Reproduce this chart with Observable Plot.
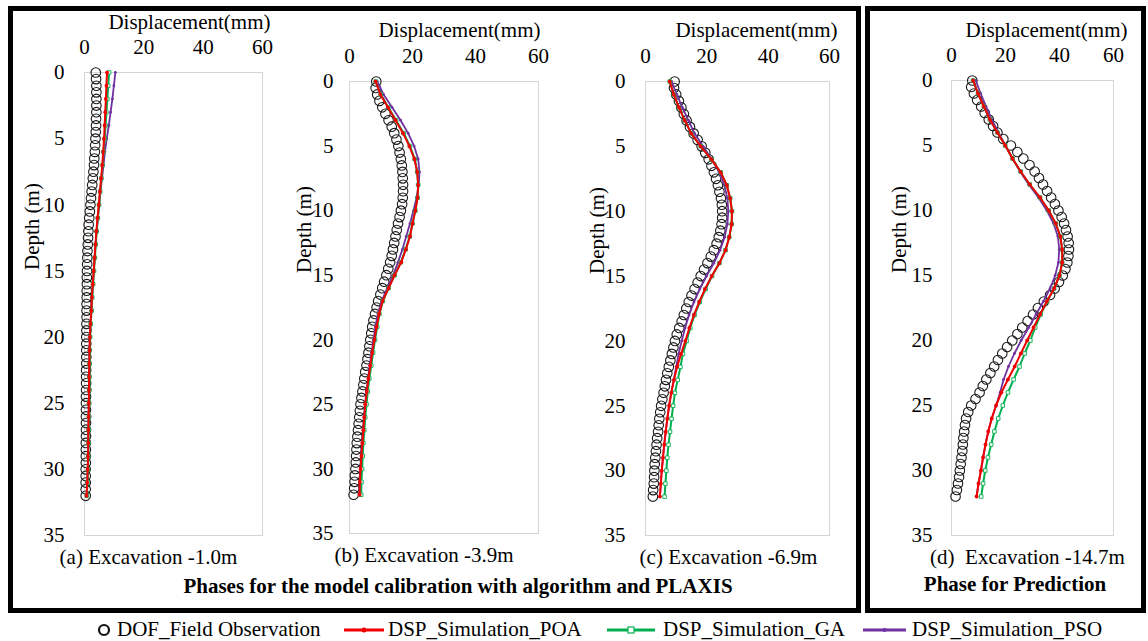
<!DOCTYPE html>
<html>
<head>
<meta charset="utf-8">
<script src="https://cdn.jsdelivr.net/npm/d3@7"></script>
<script src="https://cdn.jsdelivr.net/npm/@observablehq/plot@0.6"></script>
<style>
  html, body { margin: 0; padding: 0; background: #fff; }
  #wrap { position: relative; width: 1148px; height: 641px; overflow: hidden; background: #fff;
          font-family: "Liberation Serif", "Times New Roman", serif; color: #000; }
  .box { position: absolute; border: 5px solid #000; box-sizing: border-box; }
  .panel { position: absolute; top: 0; }
  .cap { position: absolute; font-weight: bold; font-size: 21px; line-height: 21px; white-space: nowrap; transform: translateX(-50%); }
  .legtext { position: absolute; font-size: 21px; line-height: 21px; white-space: nowrap; }
  .legsw { position: absolute; }
</style>
</head>
<body>
<div id="wrap"></div>
<script>
// ---------------- data ----------------
const depthObs = [0,0.5,1,1.5,2,2.5,3,3.5,4,4.5,5,5.5,6,6.5,7,7.5,8,8.5,9,9.5,10,10.5,11,11.5,12,12.5,13,13.5,14,14.5,15,15.5,16,16.5,17,17.5,18,18.5,19,19.5,20,20.5,21,21.5,22,22.5,23,23.5,24,24.5,25,25.5,26,26.5,27,27.5,28,28.5,29,29.5,30,30.5,31,31.5,32];
const depthSim = [0,1,2,3,4,5,6,7,8,9,10,11,12,13,14,15,16,17,18,19,20,21,22,23,24,25,26,27,28,29,30,31,32];

// (a) Excavation -1.0m
const obsA = [3.8,3.9,4.0,4.0,4.0,4.0,4.0,3.9,3.9,3.8,3.7,3.6,3.5,3.3,3.2,3.0,2.8,2.6,2.4,2.2,2.0,1.8,1.6,1.4,1.3,1.2,1.1,1.0,0.95,0.9,0.85,
              0.8,0.8,0.75,0.75,0.7,0.7,0.7,0.65,0.65,0.6,0.6,0.6,0.6,0.6,0.55,0.55,0.55,0.55,0.5,0.5,0.5,0.5,0.5,0.5,0.5,0.45,0.45,0.45,0.45,0.4,0.4,0.4,0.4,0.4];
const poaA = [7.6,7.4,7.2,7.0,6.8,6.6,6.3,6.0,5.6,5.2,4.8,4.4,4.0,3.7,3.4,3.1,2.8,2.5,2.3,2.0,1.8,1.7,1.6,1.55,1.5,1.45,1.4,1.3,1.25,1.2,1.1,0.9,0.7];
const gaA  = [8.3,8.0,7.7,7.4,7.1,6.8,6.4,6.1,5.7,5.3,4.9,4.5,4.1,3.8,3.5,3.2,2.9,2.6,2.4,2.1,1.9,1.8,1.7,1.65,1.6,1.55,1.5,1.4,1.35,1.3,1.2,1.0,0.8];
const psoA = [10.4,9.9,9.4,8.8,8.2,7.5,6.9,6.4,5.9,5.4,5.0,4.5,4.1,3.7,3.4,3.1,2.8,2.5,2.3,2.0,1.8,1.7,1.6,1.55,1.5,1.45,1.4,1.3,1.25,1.2,1.1,0.9,0.7];

// (b) Excavation -3.9m
const obsB = [8.5,8.3,8.8,9.5,10.4,11.4,12.4,13.4,14.2,14.9,15.5,15.9,16.3,16.6,16.8,16.9,17.0,17.0,16.9,16.7,16.3,
              15.9,15.4,15.0,14.6,14.2,13.8,13.4,12.9,12.3,11.7,11.0,10.4,9.8,9.1,8.6,8.1,7.6,7.2,6.9,6.6,
              6.3,6.0,5.7,5.4,5.0,4.7,4.4,4.1,3.8,3.5,3.3,3.1,2.9,2.7,2.5,2.3,2.2,2.1,2.0,1.9,1.7,1.6,1.5,1.3];
const poaB = [8.3,9.8,12.2,14.6,17.0,19.0,20.6,21.5,21.8,21.6,20.9,20.0,19.2,17.9,16.4,14.3,12.4,10.5,9.4,8.6,7.9,7.2,6.6,6.0,5.5,5.0,4.7,4.4,4.1,3.8,3.5,3.3,3.2];
const gaB  = [8.3,9.9,12.3,14.8,17.2,19.2,20.7,21.5,21.8,21.6,20.9,20.0,19.1,17.8,16.3,14.3,12.4,10.6,9.5,8.8,8.1,7.5,6.9,6.3,5.8,5.4,5.0,4.7,4.4,4.2,4.0,3.8,3.7];
const psoB = [8.8,10.8,13.5,16.2,18.6,20.5,21.8,22.2,22.0,21.3,20.3,19.2,18.0,16.8,15.4,13.8,12.0,10.2,9.0,8.2,7.6,7.0,6.4,5.9,5.4,4.9,4.6,4.3,4.0,3.7,3.4,3.2,3.1];

// (c) Excavation -6.9m
const obsC = [9.5,9.3,10.0,10.9,11.7,12.5,13.4,14.5,15.7,17.0,18.3,19.5,20.6,21.5,22.3,23.0,23.6,24.1,24.6,24.9,25.0,
              25.0,24.8,24.4,23.9,23.2,22.3,21.3,20.2,19.1,18.0,17.0,16.0,15.0,14.1,13.3,12.5,11.8,11.0,10.2,9.6,
              9.1,8.6,8.1,7.6,7.1,6.7,6.3,5.9,5.5,5.1,4.8,4.5,4.3,4.1,3.8,3.6,3.4,3.2,3.0,2.9,2.8,2.7,2.5,2.4];
const poaC = [7.9,9.2,10.9,12.8,14.9,18.0,21.5,24.5,26.5,27.6,28.2,28.1,27.3,26.1,24.1,21.6,19.4,17.5,15.8,14.3,13.0,11.6,10.3,9.3,8.4,7.7,7.1,6.6,6.1,5.7,5.3,5.0,4.7];
const gaC  = [7.9,9.2,10.9,12.8,14.9,18.0,21.5,24.5,26.5,27.6,28.2,28.1,27.3,26.1,24.1,21.7,19.6,17.7,16.0,14.6,13.4,12.2,11.4,10.5,9.6,9.0,8.5,8.0,7.5,7.1,6.8,6.5,6.2];
const psoC = [8.5,10.2,12.0,14.0,16.0,18.8,21.6,24.0,25.7,26.7,27.0,26.7,25.8,24.3,22.3,19.9,17.7,15.8,14.2,12.9,11.8,10.8,10.0,9.2,8.4,7.7,7.1,6.6,6.1,5.7,5.3,5.0,4.7];

// (d) Excavation -14.7m
const obsD = [7.7,7.3,8.3,9.5,11.0,12.3,13.8,15.4,17.0,19.2,22.0,24.4,26.6,28.9,30.8,32.4,33.9,35.4,36.9,38.3,39.6,
              40.8,41.7,42.4,43.0,43.4,43.5,43.3,42.9,42.2,41.2,39.8,38.2,36.5,34.2,32.0,30.2,28.2,26.2,24.4,22.5,
              20.6,18.8,17.2,15.8,14.4,12.9,11.6,10.4,8.9,7.3,6.2,5.4,5.0,4.7,4.4,4.2,4.0,3.7,3.4,3.1,2.8,2.4,2.0,1.5];
const poaD = [8.0,9.8,12.0,14.2,17.0,19.9,22.6,25.6,29.0,32.8,36.0,38.6,40.3,41.0,41.0,40.0,38.0,35.3,32.8,30.4,28.0,25.7,23.4,20.9,18.5,16.5,14.9,13.6,12.6,11.7,10.9,10.0,9.3];
const gaD  = [8.0,9.8,12.0,14.2,17.0,19.9,22.6,25.6,29.0,32.8,36.0,38.6,40.3,41.0,41.0,40.0,38.0,35.4,33.0,31.0,29.2,27.1,25.2,23.0,20.9,19.0,17.3,15.9,14.7,13.5,12.5,11.7,11.0];
const psoD = [9.0,10.8,12.8,14.9,17.4,20.0,22.6,25.4,28.6,32.2,35.3,37.8,39.4,39.9,39.6,38.4,36.5,34.0,31.3,28.6,25.8,23.3,21.1,19.3,18.0,16.5,14.9,13.6,12.6,11.7,10.9,10.0,9.3];

// ticks and texts
const xTicks = [0, 20, 40, 60];
const yTicks = [0, 5, 10, 15, 20, 25, 30, 35];
const xTitle = "Displacement(mm)";
const yTitle = "Depth (m)";
const panelLabels = ["(a) Excavation -1.0m", "(b) Excavation -3.9m", "(c) Excavation -6.9m", "(d)\u00a0 Excavation -14.7m"];
const groupCaptions = ["Phases for the model calibration with algorithm and PLAXIS", "Phase for Prediction"];
const seriesNames = ["DOF_Field Observation", "DSP_Simulation_POA", "DSP_Simulation_GA", "DSP_Simulation_PSO"];

// ---------------- styling / layout ----------------
const COL = { obs: "#1a1a1a", poa: "#f00000", ga: "#00b050", pso: "#7030a0", frame: "#d4d4d4" };
const FONT = "'Liberation Serif', 'Times New Roman', serif";

const layout = [
  { left: 13,  x0: 84,  x1: 262,  y0: 72, y1: 535, MR: 24, tpy: 20, tDx: 8,  tDy: -50, dDx: -52, dDy: 154, sDx: -25 },
  { left: 288, x0: 349, x1: 538,  y0: 81, y1: 533, MR: 22, tpy: 16, tDx: 2,  tDy: -51, dDx: -45, dDy: 148, sDx: -20 },
  { left: 572, x0: 645, x1: 829,  y0: 81, y1: 535, MR: 16, tpy: 20, tDx: 8,  tDy: -51, dDx: -48, dDy: 149, sDx: -9 },
  { left: 870, x0: 951, x1: 1113, y0: 80, y1: 535, MR: 26, tpy: 19, tDx: 14, tDy: -50, dDx: -52, dDy: 149, sDx: -5 }
];

const rows = (depths, vals) => vals.map((v, k) => ({ d: depths[k], v }));

function makePanel(i, obs, poa, ga, pso) {
  const L = layout[i];
  const ML = L.x0 - L.left, MB = 45;
  const obsR = rows(depthObs, obs), poaR = rows(depthSim, poa), gaR = rows(depthSim, ga), psoR = rows(depthSim, pso);
  return Plot.plot({
    width: ML + (L.x1 - L.x0) + L.MR,
    height: L.y1 + MB,
    marginLeft: ML, marginRight: L.MR, marginTop: L.y0, marginBottom: MB,
    style: { background: "transparent", fontFamily: FONT, fontSize: "21px", color: "#000", overflow: "visible" },
    x: { domain: [0, 60], ticks: xTicks, axis: "top", tickSize: 0, tickPadding: 19, label: null },
    y: { domain: [0, 35], ticks: yTicks, reverse: true, tickSize: 0, tickPadding: L.tpy, label: null },
    marks: [
      Plot.frame({ stroke: COL.frame, strokeWidth: 1 }),
      Plot.dot(obsR, { x: "v", y: "d", r: 4.8, stroke: COL.obs, strokeWidth: 1.1, fill: "none" }),
      Plot.line(psoR, { x: "v", y: "d", stroke: COL.pso, strokeWidth: 1.8 }),
      Plot.dot(psoR, { x: "v", y: "d", r: 1.4, fill: COL.pso }),
      Plot.line(gaR, { x: "v", y: "d", stroke: COL.ga, strokeWidth: 2 }),
      Plot.dot(gaR, { x: "v", y: "d", symbol: "square", r: 2, stroke: COL.ga, strokeWidth: 0.9, fill: "#fff" }),
      Plot.line(poaR, { x: "v", y: "d", stroke: COL.poa, strokeWidth: 2 }),
      Plot.dot(poaR, { x: "v", y: "d", r: 1.9, fill: COL.poa }),
      Plot.text([xTitle], { text: d => d, frameAnchor: "top-right", textAnchor: "end", lineAnchor: "middle", dx: L.tDx, dy: L.tDy, fontSize: 21 }),
      Plot.text([yTitle], { text: d => d, frameAnchor: "top-left", rotate: -90, textAnchor: "middle", lineAnchor: "middle", dx: L.dDx, dy: L.dDy, fontSize: 21 }),
      Plot.text([panelLabels[i]], { text: d => d, frameAnchor: "bottom", textAnchor: "middle", lineAnchor: "middle", dx: L.sDx, dy: 22, fontSize: 21 })
    ]
  });
}

const wrap = document.getElementById("wrap");
function add(el, css, cls) { if (cls) el.className = cls; Object.assign(el.style, css); wrap.appendChild(el); return el; }

// group boxes
add(document.createElement("div"), { left: "8px", top: "6px", width: "853px", height: "607px" }, "box");
add(document.createElement("div"), { left: "865px", top: "6px", width: "281px", height: "607px" }, "box");

const sets = [[obsA, poaA, gaA, psoA], [obsB, poaB, gaB, psoB], [obsC, poaC, gaC, psoC], [obsD, poaD, gaD, psoD]];
sets.forEach((s, i) => {
  const svg = makePanel(i, ...s);
  const holder = document.createElement("div");
  holder.appendChild(svg);
  add(holder, { left: layout[i].left + "px", width: svg.getAttribute("width") + "px" }, "panel");
});

// group captions
[[458, 576], [1015, 574]].forEach(([cx, top], k) => {
  const d = document.createElement("div");
  d.textContent = groupCaptions[k];
  add(d, { left: cx + "px", top: top + "px" }, "cap");
});

// legend
const legendItems = [
  { kind: "obs", sw: [97, 111], tx: 117 },
  { kind: "poa", sw: [344, 384], tx: 388 },
  { kind: "ga",  sw: [607, 655], tx: 663 },
  { kind: "pso", sw: [863, 906], tx: 912 }
];
const LEGY = 630;
legendItems.forEach((it, k) => {
  const w = it.sw[1] - it.sw[0];
  const ns = "http://www.w3.org/2000/svg";
  const s = document.createElementNS(ns, "svg");
  s.setAttribute("width", w); s.setAttribute("height", 16);
  let inner = "";
  if (it.kind === "obs") {
    inner = `<circle cx="${w/2}" cy="8" r="5" fill="none" stroke="#111" stroke-width="2.2"/>`;
  } else {
    const c = COL[it.kind];
    inner = `<line x1="0" y1="8" x2="${w}" y2="8" stroke="${c}" stroke-width="3"/>`;
    if (it.kind === "poa") inner += `<circle cx="${w/2}" cy="8" r="2.5" fill="${c}"/>`;
    if (it.kind === "ga") inner += `<rect x="${w/2-3}" y="5" width="6" height="6" fill="#fff" stroke="${c}" stroke-width="1.2"/>`;
    if (it.kind === "pso") inner += `<circle cx="${w/2}" cy="8" r="2" fill="${c}"/>`;
  }
  s.innerHTML = inner;
  const h = document.createElement("div");
  h.appendChild(s);
  add(h, { left: it.sw[0] + "px", top: (LEGY - 8) + "px", width: w + "px", height: "16px" }, "legsw");
  const t = document.createElement("div");
  t.textContent = seriesNames[k];
  add(t, { left: it.tx + "px", top: (LEGY - 11) + "px" }, "legtext");
});
</script>
</body>
</html>
